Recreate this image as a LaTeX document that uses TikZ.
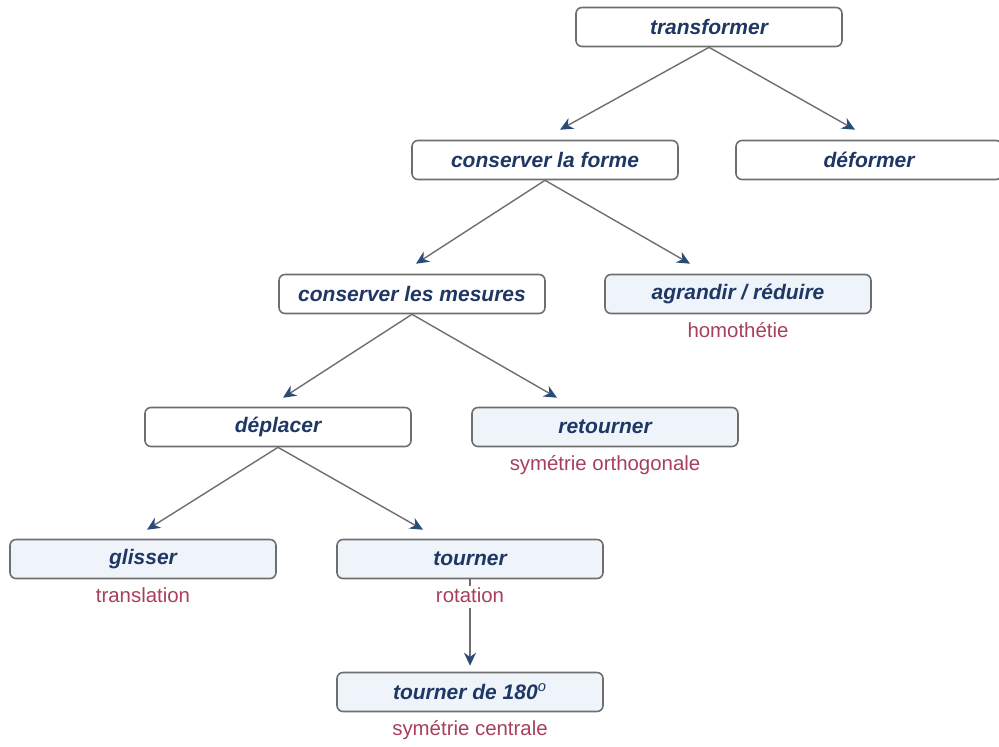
\documentclass[tikz,border=0pt]{standalone}
\usepackage{fontspec}
\setmainfont{Liberation Sans}
\usetikzlibrary{positioning,arrows.meta}
\definecolor{navy}{HTML}{1E3764}
\definecolor{rose}{HTML}{A8405C}
\definecolor{edge}{HTML}{6E6E6E}
\definecolor{tip}{HTML}{2A4A78}
\definecolor{pale}{HTML}{EEF4FA}
\begin{document}
\begin{tikzpicture}[x=0.5pt,y=-0.5pt,
    box/.style = {draw=edge, line width=0.8pt, rounded corners=3pt, fill=white,
                  minimum width=133pt, minimum height=19.5pt, inner sep=0pt,
                  text=navy, font=\fontsize{10.5}{12}\selectfont\bfseries\itshape},
    act/.style = {box, fill=pale},
    lab/.style = {text=rose, fill=white, inner sep=1pt, text height=7pt, text depth=2pt,
                  font=\fontsize{10.2}{12}\selectfont},
    arr/.style = {draw=edge, line width=0.7pt, -{Stealth[length=6.5pt,width=6pt,color=tip]}}]
    \useasboundingbox (0,0) rectangle (999,746);
    \node[box] (trans) at (709,27) {transformer};
    \node[box] (forme) at (545,160) {conserver la forme};
    \node[box] (deform) at (869,160) {déformer};
    \node[box] (mesures) at (412,294) {conserver les mesures};
    \node[act] (agrandir) at (738,294) {agrandir / réduire};
    \node[box] (deplacer) at (278,427) {déplacer};
    \node[act] (retourner) at (605,427) {retourner};
    \node[act] (glisser) at (143,559) {glisser};
    \node[act] (tourner) at (470,559) {tourner};
    \node[act] (demitour) at (470,692) {tourner de 180$^{\mathit{o}}$};
    % connectors
    \draw[arr] (trans.south) -- ([xshift=7.5pt,yshift=5pt]forme.north);
    \draw[arr] (trans.south) -- ([xshift=-7pt,yshift=5pt]deform.north);
    \draw[arr] (forme.south) -- ([xshift=2pt,yshift=5pt]mesures.north);
    \draw[arr] (forme.south) -- ([xshift=-24pt,yshift=5pt]agrandir.north);
    \draw[arr] (mesures.south) -- ([xshift=2.5pt,yshift=4.5pt]deplacer.north);
    \draw[arr] (mesures.south) -- ([xshift=-24pt,yshift=4.5pt]retourner.north);
    \draw[arr] (deplacer.south) -- ([xshift=2pt,yshift=4.5pt]glisser.north);
    \draw[arr] (deplacer.south) -- ([xshift=-23.5pt,yshift=4.5pt]tourner.north);
    \draw[arr] (tourner.south) -- ([yshift=3pt]demitour.north);
    % names of the transformations
    \node[lab, below=3.25pt of agrandir] (homo) {homothétie};
    \node[lab, below=3.25pt of retourner] (ortho) {symétrie orthogonale};
    \node[lab, below=3.25pt of glisser] (transl) {translation};
    \node[lab, below=3.25pt of tourner] (rot) {rotation};
    \node[lab, below=3.25pt of demitour] (centr) {symétrie centrale};
\end{tikzpicture}
\end{document}
